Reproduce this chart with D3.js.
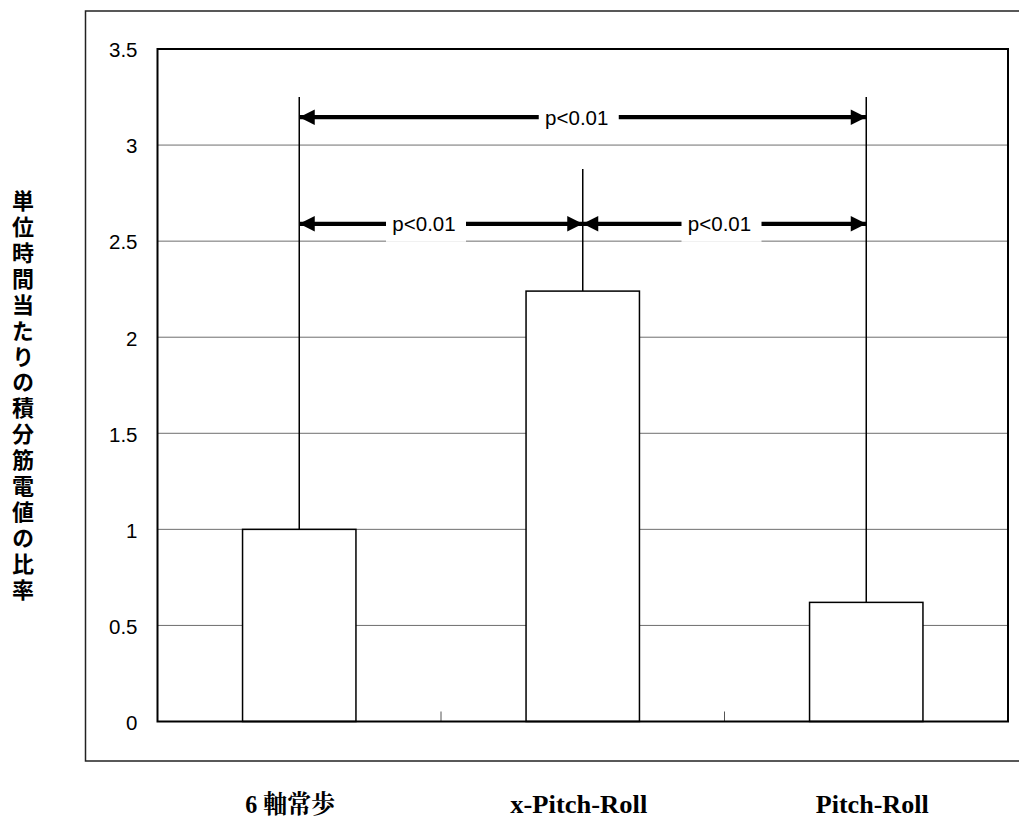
<!DOCTYPE html>
<html><head><meta charset="utf-8">
<script src="https://cdn.jsdelivr.net/npm/d3@7"></script>
<style>html,body{margin:0;padding:0;background:#fff;}svg{display:block;}</style>
</head><body>
<script>
// ---- data ----
const categories = ["6 軸常歩", "x-Pitch-Roll", "Pitch-Roll"];
const values = [1.0, 2.24, 0.62];
const whiskerTops = [3.25, 2.875, 3.25];
const yTicks = [0, 0.5, 1, 1.5, 2, 2.5, 3, 3.5];
const yTickLabels = ["0", "0.5", "1", "1.5", "2", "2.5", "3", "3.5"];
const yTitle = "単位時間当たりの積分筋電値の比率";
// comparisons
const compFrom = [0, 0, 1];
const compTo = [2, 1, 2];
const compLevel = [3.145, 2.59, 2.59];
const compLabel = ["p<0.01", "p<0.01", "p<0.01"];
const compLabelShift = [-4, -15, -3];

const W = 1019, H = 818;
const L = 157.5, R = 1008, T = 49, B = 721.5;

const svg = d3.select("body").append("svg").attr("width", W).attr("height", H);

// outer frame
svg.append("rect").attr("x", 85.5).attr("y", 11).attr("width", 1000).attr("height", 750)
  .attr("fill", "none").attr("stroke", "#222").attr("stroke-width", 1.5);

const x = d3.scaleBand().domain(categories).range([L, R]).paddingInner(0.6).paddingOuter(0.3);
const y = d3.scaleLinear().domain([0, 3.5]).range([B, T]);

// gridlines
svg.append("g").selectAll("line").data(yTicks.slice(1, -1)).join("line")
  .attr("x1", L).attr("x2", R).attr("y1", d => y(d)).attr("y2", d => y(d))
  .attr("stroke", "#6e6e6e").attr("stroke-width", 1);

// y axis labels
const yAxis = d3.axisLeft(y).tickValues(yTicks).tickFormat((d, i) => yTickLabels[i]).tickSize(0).tickPadding(20);
const ga = svg.append("g").attr("transform", `translate(${L},0)`).call(yAxis);
ga.select(".domain").remove();
ga.attr("font-size", null).attr("font-family", null);
ga.selectAll("text").style("font-family", "'Liberation Sans', Arial, sans-serif")
  .style("font-size", "20.5px").attr("fill", "#000").attr("dy", "0.38em");

// category boundary ticks
const step = x.step();
const boundaries = categories.slice(1).map(d => x(d) - (x.paddingInner() * step) / 2);
svg.append("g").selectAll("line").data(boundaries).join("line")
  .attr("x1", d => d).attr("x2", d => d)
  .attr("y1", B - 10).attr("y2", B)
  .attr("stroke", "#555").attr("stroke-width", 1);

// bars
svg.append("g").selectAll("rect").data(categories).join("rect")
  .attr("x", d => x(d)).attr("width", x.bandwidth())
  .attr("y", (d, i) => y(values[i])).attr("height", (d, i) => y(0) - y(values[i]))
  .attr("fill", "#fff").attr("stroke", "#000").attr("stroke-width", 1.5);

// whisker lines
const cx = d => x(d) + x.bandwidth() / 2;
svg.append("g").selectAll("line").data(categories).join("line")
  .attr("x1", d => cx(d)).attr("x2", d => cx(d))
  .attr("y1", (d, i) => y(whiskerTops[i])).attr("y2", (d, i) => y(values[i]))
  .attr("stroke", "#000").attr("stroke-width", 1.5);

// plot frame
svg.append("rect").attr("x", L).attr("y", T).attr("width", R - L).attr("height", B - T)
  .attr("fill", "none").attr("stroke", "#000").attr("stroke-width", 2);

// comparison arrows
const defs = svg.append("defs");
defs.append("marker").attr("id", "ah").attr("viewBox", "0 0 10 10").attr("refX", 10).attr("refY", 5)
  .attr("markerWidth", 4).attr("markerHeight", 3.6).attr("markerUnits", "strokeWidth")
  .attr("orient", "auto-start-reverse")
  .append("path").attr("d", "M0,0 L10,5 L0,10 Z").attr("fill", "#000");

const cg = svg.append("g");
compFrom.forEach((f, i) => {
  const x1 = cx(categories[f]), x2 = cx(categories[compTo[i]]);
  const yy = y(compLevel[i]);
  cg.append("line").attr("x1", x1).attr("x2", x2).attr("y1", yy).attr("y2", yy)
    .attr("stroke", "#000").attr("stroke-width", 4.3)
    .attr("marker-start", "url(#ah)").attr("marker-end", "url(#ah)");
  const mx = (x1 + x2) / 2 + compLabelShift[i];
  cg.append("rect").attr("x", mx - 40).attr("y", yy - 17).attr("width", 80).attr("height", 35).attr("fill", "#fff");
  cg.append("text").attr("x", mx - 2).attr("y", yy).attr("dy", "0.36em").attr("text-anchor", "middle")
    .attr("font-family", "'Liberation Sans', Arial, sans-serif").attr("font-size", 20.5).text(compLabel[i]);
});

// x category labels
svg.append("g").selectAll("text").data(categories).join("text")
  .attr("x", (d, i) => cx(d) + [-9, -4, 6][i]).attr("y", 813).attr("text-anchor", "middle")
  .attr("font-family", "'Liberation Serif', 'Times New Roman', 'Noto Serif CJK JP', serif")
  .attr("font-weight", "bold").attr("font-size", 25)
  .attr("textLength", (d, i) => [90, 137, 113][i]).attr("lengthAdjust", "spacingAndGlyphs")
  .text(d => d);

// y title (vertical)
svg.append("text").attr("x", 23).attr("y", 397)
  .attr("text-anchor", "middle")
  .style("writing-mode", "vertical-rl").style("text-orientation", "upright")
  .attr("font-family", "'Noto Sans CJK JP', sans-serif").attr("font-weight", "bold")
  .attr("font-size", 22).attr("letter-spacing", 3.9)
  .text(yTitle);
</script>
</body></html>
